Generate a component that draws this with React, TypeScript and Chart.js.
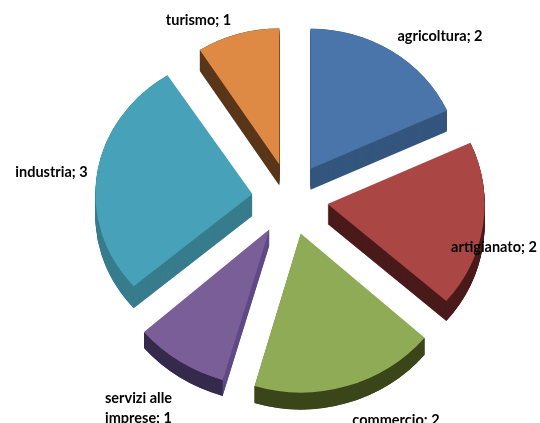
import React, { useEffect, useRef } from "react";
import { Chart, registerables } from "chart.js";

Chart.register(...registerables);

const categories = ["agricoltura", "artigianato", "commercio", "servizi alle imprese", "industria", "turismo"];
const values = [2, 2, 2, 1, 3, 1];
const faceColors = ["#4a75aa", "#aa4744", "#8fab55", "#7a5e98", "#47a2b9", "#de8a44"];
const radialSideColors = ["#34567e", "#4a1a1a", "#3a4519", "#5f4a86", "#367c8c", "#59361a"];
const outerSideColors = ["#34567e", "#4a1a1a", "#3a4519", "#352a4c", "#367c8c", "#59361a"];

const W = 540;
const H = 423;
const RADIUS = 160;
const EXPLODE_X = 38;
const EXPLODE_Y = 36;
// perspective of each exploded slice: on-screen radii and wall height
const sliceRx = [150, 157, 164, 166, 157, 147];
const sliceRy = [140, 148, 159, 157, 141, 136];
const sliceDepth = [21, 20, 17, 16, 22, 21];
const labelLines = [
  [{ x: 440, y: 36, a: "center", t: 0 }],
  [{ x: 494, y: 247, a: "center", t: 0 }],
  [{ x: 396, y: 420, a: "center", t: 0 }],
  [{ x: 105, y: 398, a: "left", t: 1 }, { x: 105, y: 418, a: "left", t: 2 }],
  [{ x: 51.5, y: 172, a: "center", t: 0 }],
  [{ x: 198.5, y: 20, a: "center", t: 0 }],
];

function place(ctx: any, arc: any, i: number, dy: number) {
  const mid = (arc.startAngle + arc.endAngle) / 2;
  ctx.translate(arc.x + Math.cos(mid) * EXPLODE_X, arc.y + Math.sin(mid) * EXPLODE_Y + dy);
  ctx.scale(sliceRx[i] / arc.outerRadius, sliceRy[i] / arc.outerRadius);
  ctx.translate(-arc.x, -arc.y);
}

const pie3d = {
  id: "pie3d",
  beforeDatasetsDraw(chart: any) {
    const { ctx } = chart;
    const arcs = chart.getDatasetMeta(0).data;
    arcs.forEach((arc: any, i: number) => {
      const saved = arc.options.backgroundColor;
      arc.options.backgroundColor = radialSideColors[i];
      for (let d = sliceDepth[i]; d > 0; d -= 1) {
        ctx.save();
        place(ctx, arc, i, d);
        arc.draw(ctx);
        ctx.restore();
      }
      arc.options.backgroundColor = saved;
      ctx.save();
      place(ctx, arc, i, 0);
      const depth = (sliceDepth[i] * arc.outerRadius) / sliceRy[i];
      ctx.beginPath();
      ctx.arc(arc.x, arc.y, arc.outerRadius, arc.startAngle, arc.endAngle);
      ctx.arc(arc.x, arc.y + depth, arc.outerRadius, arc.endAngle, arc.startAngle, true);
      ctx.closePath();
      ctx.fillStyle = outerSideColors[i];
      ctx.fill();
      ctx.restore();
    });
    arcs.forEach((arc: any, i: number) => {
      ctx.save();
      place(ctx, arc, i, 0);
      arc.draw(ctx);
      ctx.restore();
    });
    return false;
  },
  afterDraw(chart: any) {
    const { ctx } = chart;
    ctx.save();
    ctx.fillStyle = "#000";
    ctx.font = "bold 14.5px Lato";
    ctx.textBaseline = "middle";
    labelLines.forEach((lines, i) => {
      const full = `${categories[i]}; ${values[i]}`;
      const words = categories[i].split(" ");
      lines.forEach((l) => {
        const text = l.t === 0 ? full : l.t === 1 ? words.slice(0, 2).join(" ") : `${words[2]}; ${values[i]}`;
        ctx.textAlign = l.a;
        ctx.fillText(text, l.x, l.y);
      });
    });
    ctx.restore();
  },
};

export default function App() {
  const ref = useRef<HTMLCanvasElement>(null);
  useEffect(() => {
    document.body.style.margin = "0";
    const chart = new Chart(ref.current!, {
      type: "pie",
      data: {
        labels: categories,
        datasets: [
          {
            data: values,
            backgroundColor: faceColors,
            borderWidth: 0,
          } as any,
        ],
      },
      options: {
        responsive: false,
        animation: false,
        radius: RADIUS,
        layout: { padding: { left: 40, bottom: 25 } },
        plugins: { legend: { display: false }, tooltip: { enabled: false }, title: { display: false } },
      } as any,
      plugins: [pie3d],
    });
    return () => chart.destroy();
  }, []);
  return <canvas ref={ref} width={W} height={H} style={{ display: "block", position: "absolute", left: 0, top: 0, background: "#fff" }} />;
}
